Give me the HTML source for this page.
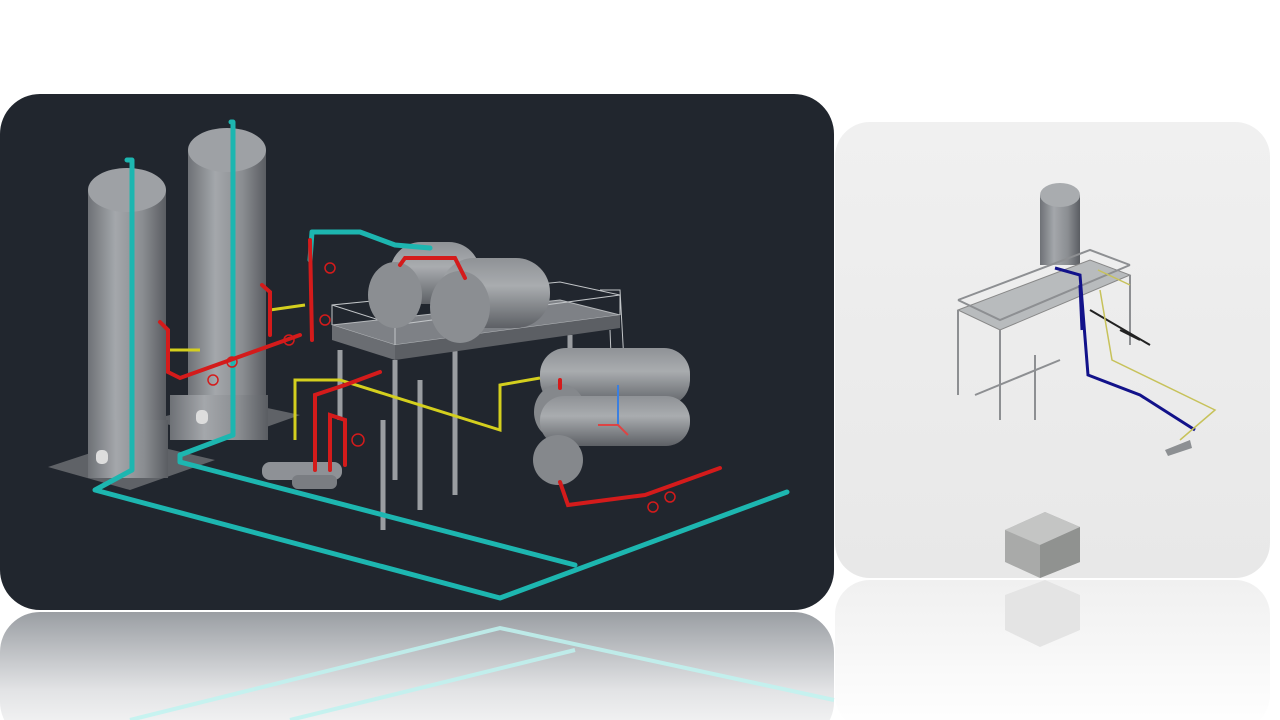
<!DOCTYPE html>
<html><head><meta charset="utf-8"><style>
html,body{margin:0;padding:0;background:#fff;width:1280px;height:720px;overflow:hidden}
svg{display:block}
</style></head><body>
<svg width="1280" height="720" viewBox="0 0 1280 720" xmlns="http://www.w3.org/2000/svg">
<defs>
<linearGradient id="cyl" x1="0" x2="1" y1="0" y2="0">
<stop offset="0" stop-color="#6e7176"/><stop offset="0.35" stop-color="#a4a7ab"/><stop offset="0.7" stop-color="#8a8d91"/><stop offset="1" stop-color="#5a5d62"/></linearGradient>
<linearGradient id="hcyl" x1="0" x2="0" y1="0" y2="1">
<stop offset="0" stop-color="#8f9296"/><stop offset="0.4" stop-color="#a9acaf"/><stop offset="1" stop-color="#5d6065"/></linearGradient>
<linearGradient id="refl" x1="0" x2="0" y1="0" y2="1">
<stop offset="0" stop-color="#9a9ea3"/><stop offset="0.6" stop-color="#e2e3e5"/><stop offset="1" stop-color="#fafafa"/></linearGradient>
<linearGradient id="refl2" x1="0" x2="0" y1="0" y2="1">
<stop offset="0" stop-color="#f0f0f0"/><stop offset="1" stop-color="#fff"/></linearGradient>
<linearGradient id="rp" x1="0" x2="0" y1="0" y2="1">
<stop offset="0" stop-color="#f0f0f0"/><stop offset="1" stop-color="#e8e8e8"/></linearGradient>
</defs>
<rect width="1280" height="720" fill="#fff"/>
<!-- reflections -->
<rect x="0" y="612" width="834" height="130" rx="40" fill="url(#refl)"/>
<g stroke="#bff3f0" stroke-width="4" fill="none" opacity="0.85">
<path d="M130 720 L500 628 L834 700"/><path d="M290 720 L575 650"/>
</g>
<rect x="835" y="580" width="435" height="150" rx="35" fill="url(#refl2)"/>
<path d="M1005 595 L1045 580 L1080 595 L1080 630 L1040 647 L1005 630Z" fill="#e4e4e4"/>
<!-- left panel -->
<rect x="0" y="94" width="834" height="516" rx="40" fill="#21262e"/>
<!-- base plates -->
<polygon points="48,467 130,440 215,460 130,490" fill="#5f6267"/>
<polygon points="150,420 230,400 300,415 230,440" fill="#5f6267"/>
<!-- tank2 -->
<rect x="188" y="150" width="78" height="265" fill="url(#cyl)"/>
<ellipse cx="227" cy="150" rx="39" ry="22" fill="#9ea1a5"/>
<rect x="170" y="395" width="98" height="45" fill="url(#cyl)"/>
<!-- tank1 -->
<rect x="88" y="190" width="78" height="250" fill="url(#cyl)"/>
<ellipse cx="127" cy="190" rx="39" ry="22" fill="#9ea1a5"/>
<rect x="88" y="420" width="80" height="58" fill="url(#cyl)"/>
<rect x="96" y="450" width="12" height="14" rx="5" fill="#ddd"/>
<rect x="196" y="410" width="12" height="14" rx="5" fill="#ddd"/>
<!-- platform -->
<g stroke="#9a9da1" stroke-width="5" fill="none">
<path d="M340 350 L340 420 M395 360 L395 480 M455 345 L455 495 M570 335 L570 400 M420 380 L420 510 M383 420 L383 530"/>
</g>
<polygon points="332,325 560,300 620,315 395,345" fill="#7e8186" stroke="#b5b8bb"/>
<polygon points="332,325 395,345 395,360 332,340" fill="#6a6d72"/>
<polygon points="395,345 620,315 620,328 395,360" fill="#5c5f64"/>
<g stroke="#c2c5c8" stroke-width="1" fill="none">
<path d="M332 325 L332 305 L560 282 L620 295 L620 315 M395 345 L395 325 L620 295 M332 305 L395 325"/>
<path d="M600 290 L620 290 L625 380 M610 330 L612 380"/>
</g>
<!-- horizontal vessels -->
<rect x="390" y="242" width="90" height="62" rx="31" fill="url(#hcyl)"/>
<ellipse cx="395" cy="295" rx="27" ry="33" fill="#8b8e92"/>
<rect x="440" y="258" width="110" height="70" rx="34" fill="url(#hcyl)"/>
<ellipse cx="460" cy="307" rx="30" ry="36" fill="#8b8e92"/>
<!-- heat exchangers -->
<rect x="540" y="348" width="150" height="58" rx="26" fill="url(#hcyl)"/>
<ellipse cx="560" cy="412" rx="26" ry="28" fill="#85888c"/>
<rect x="540" y="396" width="150" height="50" rx="24" fill="url(#hcyl)"/>
<ellipse cx="558" cy="460" rx="25" ry="25" fill="#85888c"/>
<!-- pumps -->
<rect x="262" y="462" width="80" height="18" rx="8" fill="#8e9196"/>
<rect x="292" y="475" width="45" height="14" rx="6" fill="#7a7d82"/>
<!-- cyan pipes -->
<g stroke="#1db6b0" stroke-width="5" fill="none" stroke-linecap="round" stroke-linejoin="round">
<path d="M127 160 L132 160 L132 470 L95 490 L500 598 L787 492"/>
<path d="M231 122 L233 122 L233 435 L180 455 L180 462 L575 565"/>
<path d="M310 260 L312 232 L360 232 L395 245 L430 248"/>
</g>
<!-- yellow pipes -->
<g stroke="#d4cf1e" stroke-width="3" fill="none">
<path d="M295 440 L295 380 L340 380 L500 430 L500 385 L540 378"/>
<path d="M170 350 L200 350 M270 310 L305 305"/>
</g>
<!-- red pipes -->
<g stroke="#d41b1b" stroke-width="4" fill="none" stroke-linecap="round">
<path d="M160 322 L168 330 L168 372 L180 378 L300 335"/>
<path d="M262 285 L270 292 L270 335"/>
<path d="M310 240 L312 340"/>
<path d="M400 265 L405 258 L455 258 L465 278"/>
<path d="M315 470 L315 395 L345 385 L380 372"/>
<path d="M330 470 L330 415 L345 420 L345 465"/>
<path d="M560 482 L568 505 L645 495 L720 468"/>
<path d="M560 380 L560 388"/>
</g>
<g stroke="#d41b1b" stroke-width="1.5" fill="none">
<circle cx="213" cy="380" r="5"/><circle cx="232" cy="362" r="5"/><circle cx="289" cy="340" r="5"/><circle cx="325" cy="320" r="5"/><circle cx="330" cy="268" r="5"/><circle cx="358" cy="440" r="6"/><circle cx="653" cy="507" r="5"/><circle cx="670" cy="497" r="5"/>
</g>
<!-- axes -->
<path d="M618 425 L618 385" stroke="#3b7fe0" stroke-width="2"/>
<path d="M598 425 L618 425 L628 435" stroke="#d44" stroke-width="2" fill="none"/>
<!-- right panel -->
<rect x="835" y="122" width="435" height="456" rx="35" fill="url(#rp)"/>
<rect x="1040" y="195" width="40" height="70" fill="url(#cyl)"/>
<ellipse cx="1060" cy="195" rx="20" ry="12" fill="#a9acaf"/>
<polygon points="958,310 1090,260 1130,275 1000,330" fill="#b8bbbd" stroke="#888" />
<g stroke="#8d8f92" stroke-width="2" fill="none">
<path d="M958 310 L958 395 M1000 330 L1000 420 M1130 275 L1130 345 M975 395 L1060 360 M1035 355 L1035 420"/>
<path d="M958 300 L1090 250 L1130 265 M958 300 L1000 320 L1130 265"/>
</g>
<g stroke="#12128a" stroke-width="3" fill="none">
<path d="M1055 268 L1080 275 L1088 375 L1140 395 L1195 430"/>
<path d="M1080 285 L1082 330"/>
</g>
<g stroke="#222" stroke-width="2" fill="none"><path d="M1090 310 L1150 345 M1120 330 L1140 340"/></g>
<g stroke="#c7c25a" stroke-width="1.5" fill="none"><path d="M1100 290 L1112 360 L1215 410 L1180 440 M1098 270 L1130 285"/></g>
<polygon points="1165,450 1190,440 1192,448 1168,456" fill="#8d9093"/>
<polygon points="1005,530 1045,512 1080,527 1080,562 1040,578 1005,562" fill="#a9aaa9"/>
<polygon points="1005,530 1040,545 1080,527 1045,512" fill="#c4c5c4"/>
<polygon points="1040,545 1080,527 1080,562 1040,578" fill="#909290"/>
</svg>
</body></html>
